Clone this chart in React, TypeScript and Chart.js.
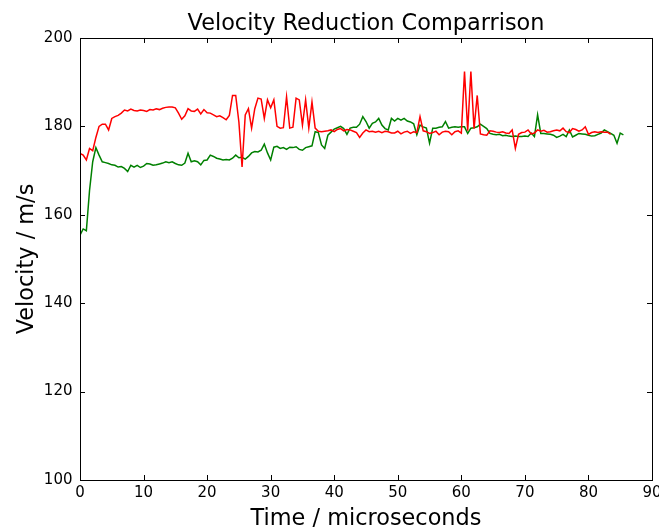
import React, { useEffect, useRef } from "react";
import { Chart, registerables } from "chart.js";

Chart.register(...registerables);

const SAMPLE_STEP = 0.5; // microseconds between samples

const redVelocity = [
  173.9, 173.5, 172.4, 175.0, 174.5, 177.5, 180.0, 180.5, 180.5, 179.2,
  181.8, 182.2, 182.5, 183.0, 183.7, 183.5, 183.9, 183.6, 183.5, 183.7,
  183.6, 183.4, 183.8, 183.7, 184.0, 183.8, 184.1, 184.3, 184.4, 184.4,
  184.2, 183.0, 181.6, 182.4, 184.0, 183.5, 183.4, 183.9, 182.8, 183.8,
  183.1, 183.0, 182.6, 182.2, 182.4, 182.0, 181.5, 182.5, 187.0, 187.0,
  181.0, 170.8, 182.6, 184.0, 179.6, 184.0, 186.4, 186.2, 181.8, 186.0,
  184.2, 186.0, 180.0, 179.6, 179.7, 186.7, 179.6, 179.8, 186.4, 186.0,
  180.3, 186.0, 179.6, 185.5, 179.6, 178.9, 178.8, 178.9, 179.0, 179.2,
  178.8, 179.3, 179.5, 179.0, 179.3, 179.2, 178.9, 178.6, 177.5, 178.5,
  179.2, 178.8, 178.9, 178.7, 178.9, 178.6, 178.9, 178.8, 178.5, 178.5,
  178.9, 178.3, 178.7, 178.9, 178.4, 178.8, 178.6, 182.2, 179.0, 178.8,
  178.4, 178.6, 178.9, 178.1, 178.7, 178.9, 178.8, 178.1, 178.8, 179.0,
  178.5, 192.4, 179.0, 192.4, 179.5, 187.0, 178.3, 178.1, 178.0, 179.0,
  178.9, 178.7, 178.6, 178.8, 178.5, 178.4, 179.2, 175.0, 178.2, 178.6,
  178.7, 179.2, 178.3, 178.5, 179.2, 178.9, 179.1, 178.7, 178.8, 179.0,
  179.2, 179.0, 179.6, 178.8, 178.6, 179.5, 179.3, 178.9, 179.2, 179.9,
  178.2, 178.6, 178.8, 178.6, 178.8, 178.7, 178.7, 178.2,
];

const greenVelocity = [
  155.4, 156.8, 156.4, 165.5, 172.0, 175.2, 173.5, 172.0, 171.8, 171.6,
  171.3, 171.2, 170.8, 170.9, 170.5, 169.8, 171.2, 170.8, 171.2, 170.7,
  171.0, 171.6, 171.5, 171.2, 171.3, 171.5, 171.7, 172.0, 171.8, 172.0,
  171.6, 171.3, 171.2, 171.7, 173.9, 172.0, 172.2, 172.0, 171.3, 172.3,
  172.4, 173.5, 173.2, 172.8, 172.6, 172.4, 172.5, 172.4, 172.8, 173.5,
  172.9, 173.0, 172.6, 173.2, 174.0, 174.3, 174.2, 174.6, 176.0, 174.0,
  172.4, 175.3, 175.5, 175.0, 175.2, 174.8, 175.3, 175.2, 175.4, 174.8,
  174.6, 175.2, 175.4, 175.6, 178.8, 178.6, 175.8, 175.0, 178.0, 178.7,
  179.4, 179.7, 180.0, 179.5, 178.2, 179.6, 179.8, 179.8, 180.5, 182.2,
  181.1, 179.6, 180.7, 181.0, 181.8, 180.3, 179.5, 179.2, 181.8, 181.2,
  181.8, 181.4, 181.8, 181.2, 181.0, 180.6, 178.1, 180.3, 179.9, 179.6,
  176.2, 179.6, 179.6, 179.8, 179.9, 181.1, 179.6, 179.8, 179.9, 179.8,
  179.9, 179.9, 178.4, 179.6, 179.7, 179.9, 180.5, 180.0, 179.5, 178.4,
  178.2, 178.1, 178.2, 177.9, 178.0, 177.8, 177.7, 177.8, 177.7, 177.7,
  177.8, 177.7, 178.5, 177.7, 182.6, 178.4, 178.4, 178.3, 178.2, 178.0,
  177.5, 177.8, 178.2, 177.7, 179.2, 177.6, 178.0, 178.4, 178.3, 178.2,
  178.0, 177.8, 177.9, 178.2, 178.5, 179.2, 178.8, 178.4, 178.0, 176.2,
  178.5, 178.1,
];

const chartTitle = "Velocity Reduction Comparrison";
const xAxisTitle = "Time / microseconds";
const yAxisTitle = "Velocity / m/s";
const xTickRange = { min: 0, max: 90, step: 10 };
const yTickRange = { min: 100, max: 200, step: 20 };

const FONT = "'DejaVu Sans', sans-serif";
const BIG = 22.4;
const TICK = 15;

const toPoints = (values: number[]) =>
  values.map((v, i) => ({ x: i * SAMPLE_STEP, y: v }));

const frameTicksPlugin = {
  id: "frameTicks",
  afterDraw(chart: any) {
    const { ctx, chartArea, scales } = chart;
    const { left, right, top, bottom } = chartArea;
    const len = 5;
    ctx.save();
    ctx.strokeStyle = "#000";
    ctx.lineWidth = 1;
    ctx.beginPath();
    scales.x.ticks.forEach((t: any) => {
      const px = Math.round(scales.x.getPixelForValue(t.value)) + 0.5;
      ctx.moveTo(px, bottom);
      ctx.lineTo(px, bottom - len);
      ctx.moveTo(px, top);
      ctx.lineTo(px, top + len);
    });
    scales.y.ticks.forEach((t: any) => {
      const py = Math.round(scales.y.getPixelForValue(t.value)) + 0.5;
      ctx.moveTo(left, py);
      ctx.lineTo(left + len, py);
      ctx.moveTo(right, py);
      ctx.lineTo(right - len, py);
    });
    ctx.stroke();
    ctx.strokeRect(
      Math.round(left) + 0.5,
      Math.round(top) + 0.5,
      Math.round(right - left),
      Math.round(bottom - top)
    );
    ctx.restore();
  },
};

export default function App() {
  const canvasRef = useRef<HTMLCanvasElement | null>(null);

  useEffect(() => {
    const canvas = canvasRef.current;
    if (!canvas) return;
    const chart = new Chart(canvas, {
      type: "line",
      data: {
        datasets: [
          {
            label: "red",
            data: toPoints(redVelocity),
            borderColor: "#ff0000",
            borderWidth: 1.5,
            pointRadius: 0,
            tension: 0,
            fill: false,
          },
          {
            label: "green",
            data: toPoints(greenVelocity),
            borderColor: "#008000",
            borderWidth: 1.5,
            pointRadius: 0,
            tension: 0,
            fill: false,
          },
        ],
      },
      options: {
        responsive: false,
        animation: false,
        layout: { autoPadding: false, padding: { left: 0, right: 7, top: 0, bottom: 0 } },
        plugins: {
          legend: { display: false },
          tooltip: { enabled: false },
          title: {
            display: true,
            fullSize: false,
            text: chartTitle,
            color: "#000",
            font: { family: FONT, size: BIG, weight: "normal", lineHeight: 1.2 },
            padding: { top: 10.6, bottom: 0.5 },
          },
        },
        scales: {
          x: {
            type: "linear",
            min: xTickRange.min,
            max: xTickRange.max,
            grid: { display: false, drawTicks: false },
            border: { display: false },
            ticks: {
              stepSize: xTickRange.step,
              color: "#000",
              font: { family: FONT, size: TICK },
              padding: 4,
              maxRotation: 0,
            },
            title: {
              display: true,
              text: xAxisTitle,
              color: "#000",
              font: { family: FONT, size: BIG, lineHeight: 0.8 },
              padding: { top: 0, bottom: 0 },
            },
            afterFit: (scale: any) => {
              scale.height = 48;
              scale.paddingLeft = 0;
              scale.paddingRight = 0;
            },
          },
          y: {
            type: "linear",
            min: yTickRange.min,
            max: yTickRange.max,
            grid: { display: false, drawTicks: false },
            border: { display: false },
            ticks: {
              stepSize: yTickRange.step,
              color: "#000",
              font: { family: FONT, size: TICK },
              padding: 7.5,
            },
            title: {
              display: true,
              text: yAxisTitle,
              color: "#000",
              font: { family: FONT, size: BIG, lineHeight: 1 },
              padding: { top: 15.8, bottom: 0 },
            },
            afterFit: (scale: any) => {
              scale.width = 80;
              scale.paddingTop = 0;
              scale.paddingBottom = 0;
            },
          },
        },
      },
      plugins: [frameTicksPlugin],
    });
    return () => chart.destroy();
  }, []);

  return (
    <div style={{ position: "absolute", left: 0, top: 0, width: 659, height: 528, background: "#fff" }}>
      <canvas ref={canvasRef} width={659} height={528} style={{ display: "block" }} />
    </div>
  );
}
